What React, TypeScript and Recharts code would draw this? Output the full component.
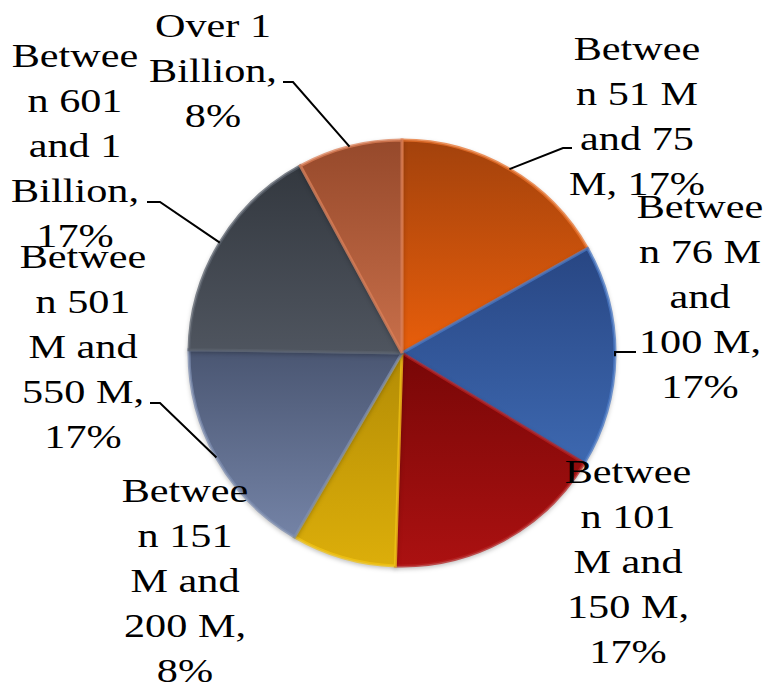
import React from 'react';
import { PieChart, Pie, Cell } from 'recharts';

const categories = [
  'Between 51 M and 75 M',
  'Between 76 M and 100 M',
  'Between 101 M and 150 M',
  'Between 151 M and 200 M',
  'Between 501 M and 550 M',
  'Between 601 and 1 Billion',
  'Over 1 Billion',
];

const shares = [17, 17, 17, 8, 17, 17, 8];

// wrapped label rows, {p} is replaced by the slice percentage
const labelRows = [
  ['Betwee', 'n 51 M', 'and 75', 'M, {p}'],
  ['Betwee', 'n 76 M', 'and', '100 M,', '{p}'],
  ['Betwee', 'n 101', 'M and', '150 M,', '{p}'],
  ['Betwee', 'n 151', 'M and', '200 M,', '{p}'],
  ['Betwee', 'n 501', 'M and', '550 M,', '{p}'],
  ['Betwee', 'n 601', 'and 1', 'Billion,', '{p}'],
  ['Over 1', 'Billion,', '{p}'],
];

const data = categories.map((name, i) => ({ name, value: shares[i] }));

// top / bottom shades for each slice gradient, plus a rim highlight
const shades = [
  { top: '#a3420c', bottom: '#e85e0b', rim: '#e8732e' },
  { top: '#284683', bottom: '#3d68b0', rim: '#4a78c4' },
  { top: '#780707', bottom: '#ab1111', rim: '#b52222' },
  { top: '#b38c05', bottom: '#dcae0a', rim: '#f2c417' },
  { top: '#4a5672', bottom: '#7483a6', rim: '#7d8db0' },
  { top: '#33383f', bottom: '#4f555f', rim: '#5a606b' },
  { top: '#96492b', bottom: '#c86f4a', rim: '#dc8058' },
];

// label placement relative to the pie centre: text centre x, first baseline y,
// optional leader elbow and tail
type Spot = { x: number; y: number; elbow?: [number, number]; tail?: [number, number] };
const labelSpots: Spot[] = [
  { x: 235, y: -293, elbow: [161, -205], tail: [170, -205] },
  { x: 298, y: -135, elbow: [213, -1], tail: [234, -1] },
  { x: 226, y: 130 },
  { x: -217, y: 149 },
  { x: -319, y: -85, elbow: [-242, 50], tail: [-252, 50] },
  { x: -327, y: -286, elbow: [-242, -151], tail: [-255, -151] },
  { x: -189, y: -316, elbow: [-109, -271], tail: [-119, -271] },
];

const RAD = Math.PI / 180;
const LINE_H = 45;
// the label face is a wide schoolbook serif; widen Liberation Serif to suit
const STRETCH = 1.28;

const renderLabel = (props: any) => {
  const { cx, cy, midAngle, outerRadius, percent, index } = props;
  const spot = labelSpots[index];
  const pct = `${Math.round(percent * 100)}%`;
  const rows = labelRows[index].map((r) => r.replace('{p}', pct));
  const ex = cx + outerRadius * Math.cos(-midAngle * RAD);
  const ey = cy + outerRadius * Math.sin(-midAngle * RAD);
  const tx = cx + spot.x;
  return (
    <g key={`lbl-${index}`}>
      {spot.elbow && spot.tail && (
        <polyline
          points={`${ex},${ey} ${cx + spot.elbow[0]},${cy + spot.elbow[1]} ${cx + spot.tail[0]},${cy + spot.tail[1]}`}
          fill="none"
          stroke="#000"
          strokeWidth={2}
        />
      )}
      <text
        x={tx}
        y={cy + spot.y}
        textAnchor="middle"
        fill="#000"
        fontSize={33}
        transform={`matrix(${STRETCH},0,0,1,${(1 - STRETCH) * tx},0)`}
        style={{ fontFamily: '"Liberation Serif", "Times New Roman", serif' }}
      >
        {rows.map((r, i) => (
          <tspan key={i} x={tx} y={cy + spot.y + i * LINE_H}>
            {r}
          </tspan>
        ))}
      </text>
    </g>
  );
};

export default function App() {
  return (
    <div style={{ position: 'absolute', left: 0, top: 0, width: 769, height: 685, background: '#fff' }}>
      <style>{`.recharts-pie-sector { filter: drop-shadow(0px 2px 2px rgba(0,0,0,0.25)); }`}</style>
      <PieChart width={769} height={685} margin={{ top: 0, right: 0, bottom: 0, left: 0 }}>
        <defs>
          {shades.map((s, i) => (
            <linearGradient key={i} id={`slice-${i}`} x1="0" y1="0" x2="0" y2="1">
              <stop offset="0%" stopColor={s.top} />
              <stop offset="100%" stopColor={s.bottom} />
            </linearGradient>
          ))}
        </defs>
        <Pie
          data={data}
          dataKey="value"
          nameKey="name"
          cx={402}
          cy={353}
          outerRadius={213}
          startAngle={90}
          endAngle={-270}
          label={renderLabel}
          labelLine={false}
          isAnimationActive={false}
        >
          {data.map((_, i) => (
            <Cell
              key={i}
              fill={`url(#slice-${i})`}
              stroke={shades[i].rim}
              strokeWidth={3}
              strokeOpacity={0.75}
            />
          ))}
        </Pie>
      </PieChart>
    </div>
  );
}
